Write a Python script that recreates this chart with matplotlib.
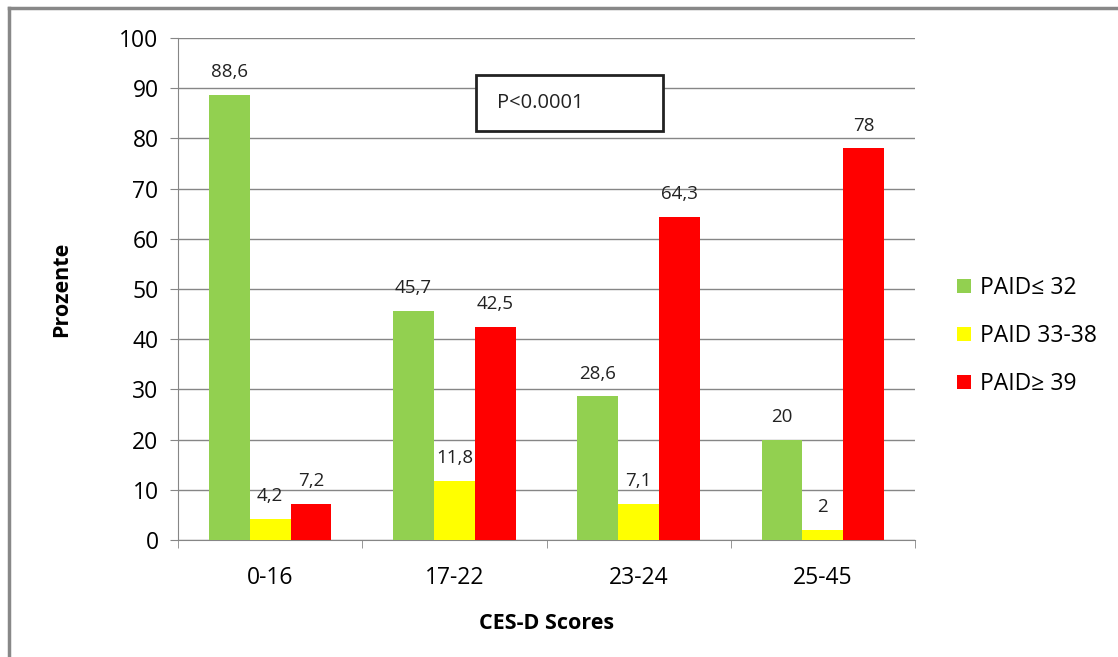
import matplotlib.pyplot as plt
import matplotlib.patches as patches
from matplotlib.lines import Line2D
import numpy as np

plt.rcParams['font.family'] = ['Open Sans', 'DejaVu Sans']

# Daten
kategorien = ['0-16', '17-22', '23-24', '25-45']
paid_niedrig = [88.6, 45.7, 28.6, 20]
paid_mittel = [4.2, 11.8, 7.1, 2]
paid_hoch = [7.2, 42.5, 64.3, 78]
serien = ['PAID≤ 32', 'PAID 33-38', 'PAID≥ 39']
farben = ['#92D050', '#FFFF00', '#FF0000']

fig = plt.figure(figsize=(11.18, 6.57), dpi=100)
ax = fig.add_axes([178 / 1118, 1 - 540 / 657, 737 / 1118, 502 / 657])

x = np.arange(len(kategorien))
breite = 0.222
for i, (werte, name, farbe) in enumerate(zip([paid_niedrig, paid_mittel, paid_hoch], serien, farben)):
    balken = ax.bar(x + (i - 1) * breite, werte, breite, color=farbe, label=name, zorder=3)
    for b, v in zip(balken, werte):
        ax.annotate(f'{v:g}'.replace('.', ','),
                    (b.get_x() + b.get_width() / 2, b.get_height()),
                    xytext=(0, 10), textcoords='offset points',
                    ha='center', va='bottom', fontsize=13.5, color='#222222')

ax.set_xlim(-0.5, len(kategorien) - 0.5)
ax.set_ylim(0, 100)
ax.set_yticks(range(0, 101, 10))
ax.set_xticks(x)
ax.set_xticklabels(kategorien)
ax.set_xticks(np.arange(-0.5, len(kategorien)), minor=True)
ax.tick_params(axis='x', which='major', length=0, pad=19, labelsize=16.5)
ax.tick_params(axis='x', which='minor', length=6, color='#868686')
ax.tick_params(axis='y', length=6, color='#868686', labelsize=16.5, pad=8)
ax.grid(axis='y', color='#868686', lw=1, zorder=0)
for s in ['top', 'right']:
    ax.spines[s].set_visible(False)
for s in ['left', 'bottom']:
    ax.spines[s].set_color('#868686')

ax.set_ylabel('Prozente', fontsize=15.5, fontweight='bold', labelpad=34)
ax.set_xlabel('CES-D Scores', fontsize=15.5, fontweight='bold', labelpad=16)

# P-Wert-Kasten
ax.add_patch(patches.Rectangle((0.4043, 0.8147), 0.2537, 0.1116, transform=ax.transAxes,
                               facecolor='white', edgecolor='#222222', lw=2, zorder=4))
ax.text(0.433, 0.8705, 'P<0.0001', transform=ax.transAxes, ha='left', va='center',
        fontsize=14.5, color='#222222', zorder=5)

fig.legend(loc='center left', bbox_to_anchor=(957 / 1118, 1 - 336 / 657), frameon=False,
           fontsize=16.5, handlelength=0.6, handleheight=0.6, handletextpad=0.4,
           labelspacing=1.05, borderaxespad=0, borderpad=0)

# Rahmen
fig.add_artist(Line2D([9 / 1118, 9 / 1118], [0, 1 - 8 / 657], transform=fig.transFigure,
                      color='#888888', lw=2.5))
fig.add_artist(Line2D([9 / 1118, 1], [1 - 8 / 657, 1 - 8 / 657], transform=fig.transFigure,
                      color='#888888', lw=2.5))

plt.savefig('out.png', dpi=100)
